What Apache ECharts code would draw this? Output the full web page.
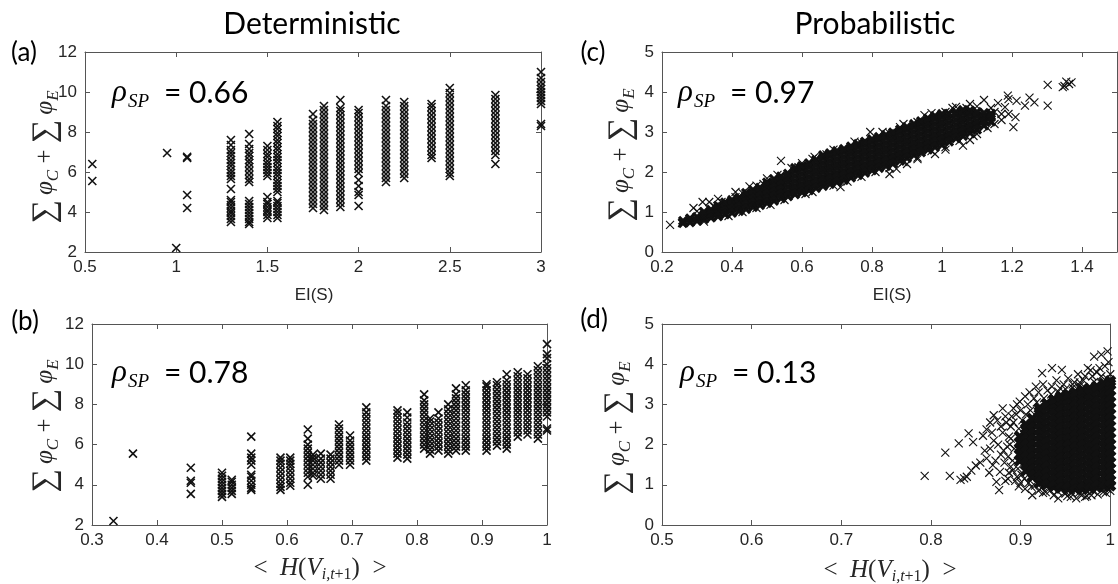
<!DOCTYPE html>
<html>
<head>
<meta charset="utf-8">
<script src="https://cdn.jsdelivr.net/npm/echarts@6/dist/echarts.min.js"></script>
<style>
html, body {margin: 0; padding: 0; background: #fff;}
#chart {width: 1118px; height: 584px;}
</style>
</head>
<body>
<div id="chart"></div>
<script>
// panel (a): deterministic, EI(S) -> columns [x, [y...]]
var detEI = [
    [0.54, [5.55, 6.4]],
    [0.95, [6.95]],
    [1.0, [2.2]],
    [1.06, [4.2, 4.85, 6.7, 6.76]],
    [1.3, [3.5, 3.65, 3.8, 3.95, 4.05, 4.2, 4.35, 4.5, 4.6, 5.15, 5.65, 5.8, 5.95, 6.1, 6.3, 6.45, 6.6, 6.8, 6.95, 7.1, 7.35, 7.6]],
    [1.4, [3.4, 3.5, 3.65, 3.8, 3.95, 4.1, 4.25, 4.4, 4.55, 5.5, 5.65, 5.85, 6.05, 6.25, 6.45, 6.6, 6.8, 6.95, 7.15, 7.4, 7.9]],
    [1.5, [3.7, 3.85, 4.0, 4.1, 4.25, 4.4, 4.5, 4.75, 5.8, 5.95, 6.1, 6.25, 6.4, 6.55, 6.75, 6.9, 7.1, 7.3]],
    [1.555, [3.7, 3.85, 4.0, 4.15, 4.3, 4.45, 4.55, 5.0, 5.15, 5.3, 5.45, 5.6, 5.8, 5.95, 6.1, 6.25, 6.45, 6.6, 6.75, 6.9, 7.1, 7.25, 7.45, 7.6, 7.8, 7.95, 8.15, 8.3, 8.5]],
    [1.75, [4.2, 4.4, 4.6, 4.8, 5.0, 5.2, 5.4, 5.6, 5.8, 6.0, 6.2, 6.4, 6.6, 6.8, 7.0, 7.2, 7.4, 7.6, 7.8, 8.0, 8.2, 8.4, 8.6, 8.9]],
    [1.81, [4.1, 4.3, 4.5, 4.7, 4.9, 5.1, 5.3, 5.5, 5.7, 5.9, 6.1, 6.3, 6.5, 6.7, 6.9, 7.1, 7.3, 7.5, 7.7, 7.9, 8.1, 8.3, 8.5, 8.7, 8.9, 9.1, 9.3]],
    [1.9, [4.25, 4.45, 4.65, 4.85, 5.05, 5.25, 5.45, 5.65, 5.85, 6.05, 6.25, 6.45, 6.65, 6.85, 7.05, 7.25, 7.45, 7.65, 7.85, 8.05, 8.25, 8.45, 8.65, 8.85, 9.05, 9.2, 9.6]],
    [2.0, [4.3, 4.85, 5.0, 5.3, 5.6, 5.95, 6.15, 6.35, 6.55, 6.75, 6.95, 7.15, 7.35, 7.55, 7.75, 7.95, 8.15, 8.35, 8.55, 8.75, 8.95, 9.1]],
    [2.15, [5.5, 5.7, 5.9, 6.1, 6.3, 6.5, 6.7, 6.9, 7.1, 7.3, 7.5, 7.7, 7.9, 8.1, 8.3, 8.5, 8.7, 8.9, 9.1, 9.3, 9.6]],
    [2.25, [5.7, 5.9, 6.1, 6.3, 6.5, 6.7, 6.9, 7.1, 7.3, 7.5, 7.7, 7.9, 8.1, 8.3, 8.5, 8.7, 8.9, 9.1, 9.3, 9.5]],
    [2.4, [6.7, 6.85, 7.05, 7.25, 7.45, 7.65, 7.85, 8.05, 8.25, 8.45, 8.65, 8.85, 9.05, 9.25, 9.4]],
    [2.5, [5.8, 5.95, 6.15, 6.35, 6.55, 6.75, 6.95, 7.15, 7.35, 7.55, 7.75, 7.95, 8.15, 8.35, 8.55, 8.75, 8.95, 9.15, 9.35, 9.55, 9.75, 9.95, 10.2]],
    [2.75, [6.4, 6.85, 7.05, 7.25, 7.45, 7.65, 7.85, 8.05, 8.25, 8.45, 8.65, 8.85, 9.05, 9.25, 9.45, 9.65, 9.85]],
    [3.0, [8.3, 8.4, 9.4, 9.55, 9.7, 9.85, 10.0, 10.15, 10.3, 10.5, 10.7, 11.0]]
];

// panel (b): deterministic, <H(V)>
var detH = [
    [0.333, [2.2]],
    [0.363, [5.55]],
    [0.452, [3.55, 4.1, 4.2, 4.85]],
    [0.5, [3.4, 3.55, 3.7, 3.85, 4.0, 4.15, 4.3, 4.45, 4.6]],
    [0.515, [3.55, 3.7, 3.85, 4.0, 4.15, 4.25]],
    [0.545, [3.75, 3.85, 4.0, 4.2, 4.4, 4.5, 5.0, 5.2, 5.35, 5.55, 6.4]],
    [0.59, [3.75, 3.9, 4.05, 4.25, 4.45, 4.65, 4.85, 5.05, 5.2, 5.35]],
    [0.605, [3.95, 4.1, 4.3, 4.5, 4.7, 4.9, 5.05, 5.2, 5.35]],
    [0.632, [4.0, 4.4, 4.6, 4.8, 5.0, 5.2, 5.4, 5.6, 5.8, 6.0, 6.3, 6.75]],
    [0.64, [4.45, 4.6, 4.8, 5.0, 5.2, 5.35, 5.5]],
    [0.652, [4.3, 4.5, 4.7, 4.9, 5.1, 5.3, 5.55]],
    [0.667, [4.3, 4.5, 4.7, 4.9, 5.1, 5.3, 5.5]],
    [0.68, [5.0, 5.2, 5.4, 5.6, 5.8, 6.0, 6.2, 6.4, 6.6, 6.8, 7.0]],
    [0.697, [5.0, 5.2, 5.4, 5.6, 5.8, 6.0, 6.2, 6.45]],
    [0.722, [5.2, 5.4, 5.6, 5.8, 6.0, 6.2, 6.4, 6.6, 6.8, 7.0, 7.2, 7.4, 7.6, 7.85]],
    [0.77, [5.35, 5.55, 5.75, 5.95, 6.15, 6.35, 6.55, 6.75, 6.95, 7.15, 7.35, 7.55, 7.7]],
    [0.785, [5.3, 5.5, 5.7, 5.9, 6.1, 6.3, 6.5, 6.7, 6.9, 7.1, 7.35, 7.6]],
    [0.811, [5.8, 6.0, 6.2, 6.4, 6.6, 6.8, 7.0, 7.2, 7.4, 7.6, 7.8, 8.0, 8.2, 8.5]],
    [0.82, [5.55, 5.75, 5.95, 6.15, 6.35, 6.55, 6.75, 6.95, 7.15, 7.3]],
    [0.833, [5.7, 5.9, 6.1, 6.3, 6.5, 6.7, 6.9, 7.1, 7.3, 7.6]],
    [0.848, [5.55, 5.75, 5.95, 6.15, 6.35, 6.55, 6.75, 6.95, 7.15, 7.35, 7.55, 7.75, 8.0]],
    [0.86, [5.7, 5.9, 6.1, 6.3, 6.5, 6.7, 6.9, 7.1, 7.3, 7.5, 7.7, 7.9, 8.1, 8.3, 8.5, 8.8]],
    [0.875, [5.7, 5.9, 6.1, 6.3, 6.5, 6.7, 6.9, 7.1, 7.3, 7.5, 7.7, 7.9, 8.1, 8.3, 8.5, 8.7, 8.95]],
    [0.907, [5.7, 5.9, 6.1, 6.3, 6.5, 6.7, 6.9, 7.1, 7.3, 7.5, 7.7, 7.9, 8.1, 8.3, 8.5, 8.7, 8.9, 9.0]],
    [0.923, [5.95, 6.15, 6.35, 6.55, 6.75, 6.95, 7.15, 7.35, 7.55, 7.75, 7.95, 8.15, 8.35, 8.55, 8.75, 8.95, 9.1]],
    [0.938, [5.8, 6.0, 6.2, 6.4, 6.6, 6.8, 7.0, 7.2, 7.4, 7.6, 7.8, 8.0, 8.2, 8.4, 8.6, 8.8, 9.0, 9.2, 9.5]],
    [0.955, [6.4, 6.6, 6.8, 7.0, 7.2, 7.4, 7.6, 7.8, 8.0, 8.2, 8.4, 8.6, 8.8, 9.0, 9.2, 9.4, 9.6]],
    [0.97, [6.5, 6.7, 6.9, 7.1, 7.3, 7.5, 7.7, 7.9, 8.1, 8.3, 8.5, 8.7, 8.9, 9.1, 9.3, 9.5]],
    [0.986, [6.3, 6.5, 6.7, 6.9, 7.1, 7.3, 7.5, 7.7, 7.9, 8.1, 8.3, 8.5, 8.7, 8.9, 9.1, 9.3, 9.5, 9.7, 9.9]],
    [1.0, [6.7, 6.8, 7.4, 7.6, 7.8, 8.0, 8.2, 8.4, 8.6, 8.8, 9.0, 9.2, 9.4, 9.6, 9.8, 10.0, 10.3, 10.5, 11.0]]
];

// panel (c): probabilistic, EI(S) - dense band and scattered marks
var probEIBand = [
    [0.26, [0.72, 0.78]],
    [0.28, [0.74, 0.84]],
    [0.30, [0.78, 0.88]],
    [0.32, [0.82, 0.92, 1.0]],
    [0.34, [0.86, 0.96, 1.06]],
    [0.36, [0.89, 0.99, 1.10, 1.16]],
    [0.38, [0.94, 1.05, 1.16, 1.24]],
    [0.40, [0.98, 1.09, 1.20, 1.30]],
    [0.42, [1.02, 1.13, 1.24, 1.35]],
    [0.44, [1.07, 1.18, 1.29, 1.40, 1.48]],
    [0.46, [1.12, 1.23, 1.34, 1.45, 1.55]],
    [0.48, [1.17, 1.28, 1.39, 1.50, 1.61]],
    [0.50, [1.22, 1.33, 1.44, 1.55, 1.66, 1.74]],
    [0.52, [1.28, 1.39, 1.50, 1.61, 1.72, 1.82]],
    [0.54, [1.34, 1.45, 1.56, 1.67, 1.78, 1.89]],
    [0.56, [1.39, 1.50, 1.62, 1.74, 1.86, 1.96]],
    [0.58, [1.44, 1.55, 1.66, 1.78, 1.90, 2.02, 2.10]],
    [0.60, [1.49, 1.60, 1.71, 1.83, 1.95, 2.07, 2.15]],
    [0.62, [1.54, 1.65, 1.76, 1.88, 2.00, 2.12, 2.22]],
    [0.64, [1.60, 1.71, 1.82, 1.94, 2.06, 2.18, 2.30]],
    [0.66, [1.65, 1.76, 1.87, 1.99, 2.11, 2.23, 2.35, 2.42]],
    [0.68, [1.70, 1.81, 1.92, 2.04, 2.16, 2.28, 2.40, 2.47]],
    [0.70, [1.75, 1.86, 1.97, 2.09, 2.21, 2.33, 2.45, 2.53]],
    [0.72, [1.80, 1.91, 2.02, 2.14, 2.26, 2.38, 2.50, 2.58]],
    [0.74, [1.86, 1.97, 2.08, 2.20, 2.32, 2.44, 2.56, 2.64]],
    [0.76, [1.92, 2.03, 2.14, 2.26, 2.38, 2.50, 2.62, 2.70]],
    [0.78, [1.98, 2.09, 2.20, 2.32, 2.44, 2.56, 2.68, 2.76]],
    [0.80, [2.04, 2.15, 2.26, 2.38, 2.50, 2.62, 2.74, 2.82]],
    [0.82, [2.10, 2.21, 2.32, 2.44, 2.56, 2.68, 2.80, 2.88]],
    [0.84, [2.15, 2.26, 2.37, 2.49, 2.61, 2.73, 2.85, 2.93]],
    [0.86, [2.21, 2.32, 2.43, 2.55, 2.67, 2.79, 2.91, 2.99]],
    [0.88, [2.28, 2.39, 2.50, 2.62, 2.74, 2.86, 2.98, 3.06]],
    [0.90, [2.35, 2.46, 2.57, 2.69, 2.81, 2.93, 3.05, 3.13]],
    [0.92, [2.42, 2.53, 2.64, 2.76, 2.88, 3.00, 3.12, 3.20]],
    [0.94, [2.49, 2.60, 2.71, 2.83, 2.95, 3.07, 3.19, 3.27]],
    [0.96, [2.56, 2.67, 2.78, 2.90, 3.02, 3.14, 3.26, 3.34]],
    [0.98, [2.62, 2.73, 2.84, 2.96, 3.08, 3.20, 3.32, 3.40]],
    [1.00, [2.68, 2.79, 2.90, 3.02, 3.14, 3.26, 3.38, 3.45]],
    [1.02, [2.76, 2.87, 2.98, 3.10, 3.22, 3.34, 3.46]],
    [1.04, [2.84, 2.95, 3.06, 3.18, 3.30, 3.42, 3.50]],
    [1.06, [2.90, 3.01, 3.12, 3.24, 3.36, 3.48, 3.55]],
    [1.08, [2.98, 3.09, 3.20, 3.32, 3.44, 3.54]],
    [1.10, [3.06, 3.17, 3.28, 3.40, 3.50]],
    [1.12, [3.16, 3.27, 3.38, 3.48]],
    [1.14, [3.26, 3.37, 3.46]]
];
var probEIOut = [
    [0.223, 0.68], [0.257, 0.72], [0.29, 1.1], [0.316, 1.25], [0.335, 1.25], [0.36, 1.33],
    [0.41, 1.5], [0.45, 1.64], [0.50, 1.84], [0.54, 2.28], [0.60, 2.22], [0.636, 2.38],
    [0.71, 1.62], [0.795, 3.0], [0.85, 1.95], [0.87, 2.08], [0.90, 2.2], [0.93, 2.32],
    [0.98, 2.45], [1.01, 2.56], [1.06, 2.66], [1.08, 2.8], [0.88, 3.12], [0.95, 3.42],
    [1.04, 3.63], [1.08, 3.7], [1.12, 3.8], [1.188, 3.91], [1.19, 3.82], [1.204, 3.12],
    [1.21, 3.37], [1.19, 3.45], [1.213, 3.78], [1.237, 3.66], [1.25, 3.86], [1.264, 3.74],
    [1.302, 4.18], [1.302, 3.66], [1.345, 4.12], [1.355, 4.26], [1.363, 4.2], [1.35, 4.15],
    [1.37, 4.24],
    [0.30, 1.02], [0.37, 1.25], [0.43, 1.47], [0.47, 1.66], [0.53, 1.93], [0.57, 2.1],
    [0.63, 2.33], [0.69, 2.56], [0.75, 2.76], [0.83, 3.0], [0.89, 3.2], [0.97, 3.47],
    [1.03, 3.6], [1.10, 3.64], [1.14, 3.6], [1.16, 3.72], [1.17, 3.45], [1.18, 3.62],
    [0.32, 0.76], [0.39, 0.9], [0.47, 1.1], [0.55, 1.3], [0.63, 1.5], [0.73, 1.76],
    [0.81, 2.0], [0.89, 2.25], [0.97, 2.52], [1.05, 2.78], [1.10, 2.95], [1.13, 3.1],
    [1.15, 3.2], [1.17, 3.3],
    [0.35, 1.14], [0.41, 1.37], [0.49, 1.7], [0.59, 2.12], [0.67, 2.44], [0.77, 2.73],
    [0.85, 2.97], [0.93, 3.25], [1.01, 3.5], [1.07, 3.6], [0.43, 1.0], [0.51, 1.18],
    [0.61, 1.45], [0.69, 1.66], [0.77, 1.88], [0.85, 2.1], [0.93, 2.36], [1.01, 2.62],
    [1.09, 2.9], [1.12, 3.4], [1.15, 3.5]
];

// panel (d): probabilistic, <H(V)> - dense core and scattered marks
var probHCore = [
    [0.899, [1.6, 1.75, 1.9, 2.05, 2.2]],
    [0.906, [1.35, 1.5, 1.65, 1.8, 1.95, 2.1, 2.25, 2.4, 2.5]],
    [0.913, [1.2, 1.32, 1.47, 1.62, 1.77, 1.92, 2.07, 2.22, 2.37, 2.52, 2.65]],
    [0.921, [1.05, 1.17, 1.32, 1.47, 1.62, 1.77, 1.92, 2.07, 2.22, 2.37, 2.52, 2.67, 2.82, 2.9]],
    [0.929, [1.0, 1.1, 1.25, 1.4, 1.55, 1.7, 1.85, 2.0, 2.15, 2.3, 2.45, 2.6, 2.75, 2.9, 3.02]],
    [0.937, [0.95, 1.07, 1.22, 1.37, 1.52, 1.67, 1.82, 1.97, 2.12, 2.27, 2.42, 2.57, 2.72, 2.87, 3.02, 3.12]],
    [0.945, [0.92, 1.0, 1.15, 1.3, 1.45, 1.6, 1.75, 1.9, 2.05, 2.2, 2.35, 2.5, 2.65, 2.8, 2.95, 3.1, 3.2]],
    [0.953, [0.9, 1.03, 1.18, 1.33, 1.48, 1.63, 1.78, 1.93, 2.08, 2.23, 2.38, 2.53, 2.68, 2.83, 2.98, 3.13, 3.25]],
    [0.961, [0.9, 0.98, 1.13, 1.28, 1.43, 1.58, 1.73, 1.88, 2.03, 2.18, 2.33, 2.48, 2.63, 2.78, 2.93, 3.08, 3.23, 3.3]],
    [0.969, [0.9, 1.03, 1.18, 1.33, 1.48, 1.63, 1.78, 1.93, 2.08, 2.23, 2.38, 2.53, 2.68, 2.83, 2.98, 3.13, 3.28, 3.36]],
    [0.977, [0.92, 1.0, 1.15, 1.3, 1.45, 1.6, 1.75, 1.9, 2.05, 2.2, 2.35, 2.5, 2.65, 2.8, 2.95, 3.1, 3.25, 3.4]],
    [0.985, [0.94, 1.07, 1.22, 1.37, 1.52, 1.67, 1.82, 1.97, 2.12, 2.27, 2.42, 2.57, 2.72, 2.87, 3.02, 3.17, 3.32, 3.45]],
    [0.993, [0.96, 1.05, 1.2, 1.35, 1.5, 1.65, 1.8, 1.95, 2.1, 2.25, 2.4, 2.55, 2.7, 2.85, 3.0, 3.15, 3.3, 3.45, 3.52]],
    [1.0, [0.98, 1.1, 1.25, 1.4, 1.55, 1.7, 1.85, 2.0, 2.15, 2.3, 2.45, 2.6, 2.75, 2.9, 3.05, 3.2, 3.35, 3.5, 3.58]]
];
var probHOut = [
    [0.793, 1.22], [0.816, 1.8], [0.821, 1.22], [0.831, 2.03], [0.833, 1.12], [0.837, 1.16],
    [0.84, 1.2], [0.842, 2.28], [0.847, 2.06], [0.845, 1.35], [0.85, 1.48], [0.855, 1.55],
    [0.858, 2.22], [0.862, 2.38], [0.862, 1.66], [0.866, 2.55], [0.866, 1.9], [0.869, 1.49],
    [0.87, 2.73], [0.87, 2.1], [0.873, 1.07], [0.876, 0.87], [0.877, 1.32], [0.878, 1.75],
    [0.88, 2.9], [0.88, 2.3], [0.882, 1.55], [0.884, 2.55], [0.886, 1.15], [0.888, 2.0],
    [0.89, 2.7], [0.891, 1.35], [0.892, 2.9], [0.886, 1.7], [0.887, 2.2], [0.889, 1.45],
    [0.889, 2.45], [0.885, 1.95], [0.896, 3.0], [0.899, 3.07], [0.898, 0.96], [0.905, 0.9],
    [0.905, 3.2], [0.91, 3.3], [0.913, 0.74], [0.917, 3.44], [0.92, 0.85], [0.924, 3.78],
    [0.925, 3.5], [0.928, 0.82], [0.935, 3.9], [0.935, 3.44], [0.937, 0.74], [0.94, 3.6],
    [0.942, 0.66], [0.946, 3.86], [0.948, 3.5], [0.95, 0.78], [0.953, 3.65], [0.956, 0.7],
    [0.96, 3.55], [0.962, 0.66], [0.964, 3.75], [0.968, 0.74], [0.97, 3.6], [0.975, 3.9],
    [0.974, 0.72], [0.979, 0.74], [0.98, 3.7], [0.982, 4.19], [0.985, 3.8], [0.986, 0.76],
    [0.99, 4.24], [0.992, 0.82], [0.994, 3.95], [0.997, 4.32], [0.998, 4.05], [1.0, 0.85],
    [1.0, 3.75],
    [0.875, 2.0], [0.878, 2.45], [0.881, 1.85], [0.883, 2.7], [0.887, 1.3], [0.889, 2.15],
    [0.891, 1.6], [0.892, 2.55], [0.894, 1.1], [0.895, 2.75], [0.893, 1.9], [0.9, 1.05],
    [0.9, 2.85], [0.896, 1.2], [0.86, 1.85], [0.865, 1.3], [0.868, 2.3], [0.872, 1.6],
    [0.874, 2.6], [0.883, 1.1], [0.908, 3.0], [0.912, 0.95], [0.915, 3.15], [0.92, 3.3],
    [0.925, 0.8], [0.93, 3.35], [0.944, 3.4], [0.952, 0.72], [0.958, 3.5], [0.966, 3.55],
    [0.972, 0.7], [0.972, 3.7], [0.978, 3.85], [0.99, 3.7], [0.995, 0.8], [0.988, 3.9],
    [0.897, 1.4], [0.898, 2.4], [0.901, 1.25], [0.902, 2.6], [0.904, 1.15], [0.906, 2.75],
    [0.909, 1.05], [0.911, 2.85], [0.916, 0.98], [0.918, 3.05], [0.923, 0.92], [0.926, 3.15],
    [0.933, 0.86], [0.934, 3.25], [0.941, 0.84], [0.942, 3.32], [0.949, 0.8], [0.95, 3.38],
    [0.957, 0.8], [0.958, 3.42], [0.965, 0.8], [0.966, 3.46], [0.981, 0.84], [0.982, 3.56],
    [0.996, 3.65], [0.997, 0.9]
];

// axis ranges [min, max, interval] per panel a, b, c, d
var xRanges = [[0.5, 3, 0.5], [0.3, 1, 0.1], [0.2, 1.5, 0.2], [0.5, 1, 0.1]];
var yRanges = [[2, 12, 2], [2, 12, 2], [0, 5, 1], [0, 5, 1]];
var rhoLabels = ['0.66', '0.78', '0.97', '0.13'];
var panelLabels = ['(a)', '(b)', '(c)', '(d)'];
var columnTitles = ['Deterministic', 'Probabilistic'];

var axisColor = '#555';
var labelColor = '#262626';
var crossPath = 'path://M0,0L10,10M10,0L0,10';

var grids = [
    {left: 85, top: 52, width: 456, height: 200},
    {left: 92, top: 324, width: 455, height: 201},
    {left: 662, top: 52, width: 455, height: 200},
    {left: 662, top: 324, width: 457, height: 201}
];

function flatten(cols) {
    var out = [];
    cols.forEach(function (c) {
        c[1].forEach(function (y) {
            out.push([c[0], y]);
        });
    });
    return out;
}

var xAxes = [], yAxes = [];
for (var i = 0; i < 4; i++) {
    var xr = xRanges[i], yr = yRanges[i];
    ['bottom', 'top'].forEach(function (pos) {
        xAxes.push({
            gridIndex: i, type: 'value', position: pos,
            min: xr[0], max: xr[1], interval: xr[2],
            axisLine: {show: true, onZero: false, lineStyle: {color: axisColor, width: 1}},
            axisTick: {show: true, inside: true, length: 5, lineStyle: {color: axisColor}},
            axisLabel: {
                show: pos === 'bottom', margin: 7, color: labelColor, fontSize: 17,
                fontFamily: 'Liberation Sans', showMinLabel: true, showMaxLabel: i !== 2
            },
            splitLine: {show: false}
        });
    });
    ['left', 'right'].forEach(function (pos) {
        yAxes.push({
            gridIndex: i, type: 'value', position: pos,
            min: yr[0], max: yr[1], interval: yr[2],
            axisLine: {show: true, onZero: false, lineStyle: {color: axisColor, width: 1}},
            axisTick: {show: true, inside: true, length: 5, lineStyle: {color: axisColor}},
            axisLabel: {
                show: pos === 'left', margin: 8, color: labelColor, fontSize: 17,
                fontFamily: 'Liberation Sans', showMinLabel: true, showMaxLabel: true
            },
            splitLine: {show: false}
        });
    });
}

function scatter(i, data, width, size) {
    return {
        type: 'scatter', xAxisIndex: 2 * i, yAxisIndex: 2 * i,
        data: data, symbol: crossPath, symbolSize: size || 8,
        clip: false, silent: true, animation: false,
        itemStyle: {color: 'rgba(0,0,0,0)', borderColor: '#111', borderWidth: width, opacity: 1}
    };
}

var series = [
    scatter(0, flatten(detEI), 1.6),
    scatter(1, flatten(detH), 1.6),
    scatter(2, flatten(probEIBand), 3.2),
    scatter(2, probEIOut, 1.1),
    scatter(3, flatten(probHCore), 4.4, 9),
    scatter(3, probHOut, 1.1)
];

// text pieces
var graphic = [];
graphic.push({type: 'text', x: 312, y: 24, style: {text: columnTitles[0], font: '30px Lato', fill: '#000', align: 'center', verticalAlign: 'middle'}});
graphic.push({type: 'text', x: 875, y: 24, style: {text: columnTitles[1], font: '30px Lato', fill: '#000', align: 'center', verticalAlign: 'middle'}});

var panelPos = [[24, 53], [25, 322], [593, 53], [594, 320]];
var rhoPos = [[112, 93], [112, 373], [678, 93], [680, 373]];
var yLabPos = [[45, 157], [45, 426], [621, 155], [617, 428]];
for (var p = 0; p < 4; p++) {
    graphic.push({type: 'text', x: panelPos[p][0], y: panelPos[p][1],
        style: {text: panelLabels[p], font: '26px Lato', fill: '#000', align: 'center', verticalAlign: 'middle'}});
    var rx = rhoPos[p][0], ry = rhoPos[p][1];
    graphic.push({type: 'text', x: rx, y: ry,
        style: {text: 'ρ', font: 'italic 31px "Liberation Serif"', fill: '#000', align: 'left', verticalAlign: 'middle'}});
    graphic.push({type: 'text', x: rx + 16, y: ry + 9,
        style: {text: 'SP', font: 'italic 19px "Liberation Serif"', fill: '#000', align: 'left', verticalAlign: 'middle'}});
    graphic.push({type: 'text', x: rx + 52, y: ry,
        style: {text: '= ' + rhoLabels[p], font: '30px Lato', fill: '#000', align: 'left', verticalAlign: 'middle'}});
    graphic.push({type: 'text', x: yLabPos[p][0], y: yLabPos[p][1], rotation: Math.PI / 2,
        style: {
            text: '{s|∑}{p|\u2009φ}{b|C}{o| + }{s|∑}{p|\u2009φ}{b|E}',
            align: 'center', verticalAlign: 'middle', fill: labelColor,
            rich: {
                s: {fontSize: 33, fontFamily: 'Liberation Serif', lineHeight: 34, fill: labelColor},
                p: {fontSize: 25, fontStyle: 'italic', fontFamily: 'Liberation Serif', lineHeight: 34, fill: labelColor},
                b: {fontSize: 17, fontStyle: 'italic', fontFamily: 'Liberation Serif', verticalAlign: 'bottom', fill: labelColor},
                o: {fontSize: 25, fontFamily: 'Liberation Serif', lineHeight: 34, fill: labelColor}
            }
        }});
}

var eiPos = [[314, 295], [892, 295]];
var hPos = [[320, 568], [890, 570]];
for (var q = 0; q < 2; q++) {
    graphic.push({type: 'text', x: eiPos[q][0], y: eiPos[q][1],
        style: {text: 'EI(S)', font: '17px "Liberation Sans"', fill: labelColor, align: 'center', verticalAlign: 'middle'}});
    graphic.push({type: 'text', x: hPos[q][0], y: hPos[q][1],
        style: {
            text: '{o|<  }{i|H}{o|(}{i|V}{b|i,t}{c|+1}{o|)  >}',
            align: 'center', verticalAlign: 'middle', fill: labelColor,
            rich: {
                o: {fontSize: 25, fontFamily: 'Liberation Serif', lineHeight: 30, fill: labelColor},
                i: {fontSize: 25, fontStyle: 'italic', fontFamily: 'Liberation Serif', lineHeight: 30, fill: labelColor},
                b: {fontSize: 16, fontStyle: 'italic', fontFamily: 'Liberation Serif', verticalAlign: 'bottom', fill: labelColor},
                c: {fontSize: 16, fontFamily: 'Liberation Serif', verticalAlign: 'bottom', fill: labelColor}
            }
        }});
}

var myChart = echarts.init(document.getElementById('chart'), null, {renderer: 'canvas'});
myChart.setOption({
    animation: false,
    grid: grids,
    xAxis: xAxes,
    yAxis: yAxes,
    series: series,
    graphic: graphic
});
</script>
</body>
</html>
